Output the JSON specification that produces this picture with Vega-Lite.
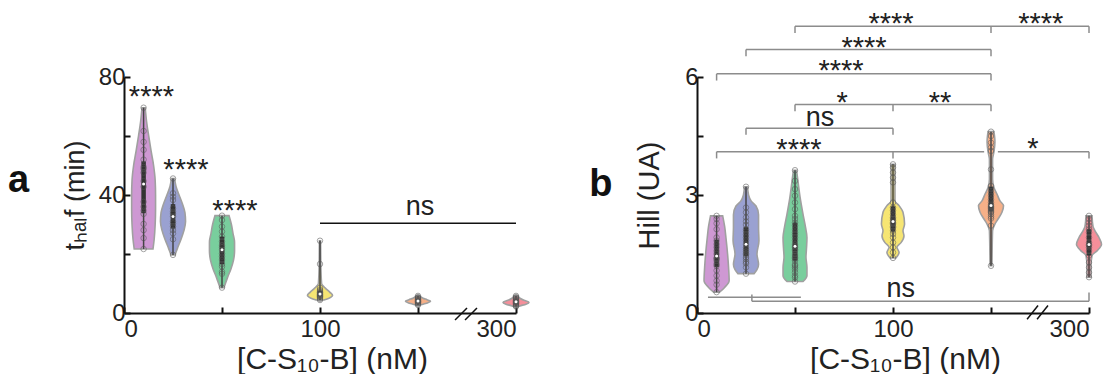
{
"$schema": "https://vega.github.io/schema/vega-lite/v6.json",
"padding": {"left": 8, "top": 10, "right": 1, "bottom": 0},
"spacing": 56,
"config": {
 "font": "Liberation Sans",
 "view": {"stroke": null},
 "axis": {"domainColor": "#111", "domainWidth": 2, "tickColor": "#111", "tickWidth": 2, "tickSize": -6, "labelFontSize": 24, "labelColor": "#222", "labelFont": "Liberation Sans", "titleFont": "Liberation Sans", "titleFontWeight": "normal", "titleColor": "#222", "grid": false},
 "axisX": {"labelPadding": 10},
 "axisY": {"labelPadding": 5}
},
"datasets": {
 "pa": [
  {"c":10,"v":69.6},{"c":10,"v":61.7},{"c":10,"v":58},{"c":10,"v":55.3},{"c":10,"v":52},{"c":10,"v":49.5},{"c":10,"v":48.8},{"c":10,"v":47.6},{"c":10,"v":44.7},{"c":10,"v":42.8},{"c":10,"v":37.7},{"c":10,"v":36},{"c":10,"v":34.7},{"c":10,"v":33.6},{"c":10,"v":30.2},{"c":10,"v":28.1},{"c":10,"v":25.4},{"c":10,"v":21.7},
  {"c":25,"v":45.6},{"c":25,"v":40.6},{"c":25,"v":39.4},{"c":25,"v":38.3},{"c":25,"v":35.5},{"c":25,"v":34.3},{"c":25,"v":33.6},{"c":25,"v":32.7},{"c":25,"v":31.1},{"c":25,"v":30.4},{"c":25,"v":29.3},{"c":25,"v":28.1},{"c":25,"v":27},{"c":25,"v":25},{"c":25,"v":19.7},
  {"c":50,"v":33},{"c":50,"v":31.5},{"c":50,"v":29.3},{"c":50,"v":27.6},{"c":50,"v":25.9},{"c":50,"v":24.2},{"c":50,"v":23},{"c":50,"v":22.3},{"c":50,"v":21.4},{"c":50,"v":20.2},{"c":50,"v":19.1},{"c":50,"v":18},{"c":50,"v":16.6},{"c":50,"v":15.7},{"c":50,"v":14},{"c":50,"v":13.3},{"c":50,"v":8.6},
  {"c":100,"v":24.5},{"c":100,"v":16.6},{"c":100,"v":8.5},{"c":100,"v":7.8},{"c":100,"v":7.4},{"c":100,"v":7},{"c":100,"v":6.8},{"c":100,"v":6.5},{"c":100,"v":6.3},{"c":100,"v":6.1},{"c":100,"v":5.9},{"c":100,"v":5.7},{"c":100,"v":5.5},{"c":100,"v":5.2},{"c":100,"v":4.8},{"c":100,"v":4.4},
  {"c":150,"v":5.8},{"c":150,"v":5.4},{"c":150,"v":5.1},{"c":150,"v":4.8},{"c":150,"v":4.6},{"c":150,"v":4.4},{"c":150,"v":4.2},{"c":150,"v":4.0},{"c":150,"v":3.9},{"c":150,"v":3.7},{"c":150,"v":3.5},{"c":150,"v":3.3},{"c":150,"v":3.0},{"c":150,"v":2.7},
  {"c":300,"v":5.8},{"c":300,"v":5.4},{"c":300,"v":5.0},{"c":300,"v":4.7},{"c":300,"v":4.4},{"c":300,"v":4.2},{"c":300,"v":4.0},{"c":300,"v":3.8},{"c":300,"v":3.6},{"c":300,"v":3.4},{"c":300,"v":3.2},{"c":300,"v":3.0},{"c":300,"v":2.7},{"c":300,"v":2.4},{"c":300,"v":2.2}
 ],
 "va": [
  {"c":10,"v":69.6,"lo":9.2,"hi":10.8},{"c":10,"v":65,"lo":8.5,"hi":11.5},{"c":10,"v":60,"lo":7.4,"hi":12.6},{"c":10,"v":55,"lo":6.2,"hi":13.8},{"c":10,"v":50,"lo":4.9,"hi":15.1},{"c":10,"v":45,"lo":4.1,"hi":15.9},{"c":10,"v":40,"lo":3.9,"hi":16.1},{"c":10,"v":35,"lo":3.9,"hi":16.1},{"c":10,"v":30,"lo":4.1,"hi":15.9},{"c":10,"v":25,"lo":4.6,"hi":15.4},{"c":10,"v":21.7,"lo":5.2,"hi":14.8},
  {"c":25,"v":45.6,"lo":24.2,"hi":25.8},{"c":25,"v":43,"lo":23.5,"hi":26.5},{"c":25,"v":40,"lo":21.9,"hi":28.1},{"c":25,"v":37,"lo":20.2,"hi":29.8},{"c":25,"v":34,"lo":18.9,"hi":31.1},{"c":25,"v":31,"lo":18.6,"hi":31.4},{"c":25,"v":28,"lo":19.4,"hi":30.6},{"c":25,"v":25,"lo":20.9,"hi":29.1},{"c":25,"v":22,"lo":22.7,"hi":27.3},{"c":25,"v":19.7,"lo":24,"hi":26},
  {"c":50,"v":33,"lo":46.4,"hi":53.6},{"c":50,"v":30,"lo":45.2,"hi":54.8},{"c":50,"v":27,"lo":44.4,"hi":55.6},{"c":50,"v":24,"lo":43.6,"hi":56.4},{"c":50,"v":21,"lo":43.6,"hi":56.4},{"c":50,"v":18,"lo":44.1,"hi":55.9},{"c":50,"v":15,"lo":45.4,"hi":54.6},{"c":50,"v":12,"lo":47.2,"hi":52.8},{"c":50,"v":8.6,"lo":49,"hi":51},
  {"c":100,"v":24.5,"lo":99.7,"hi":100.3},{"c":100,"v":17,"lo":99.6,"hi":100.4},{"c":100,"v":10,"lo":99.2,"hi":100.8},{"c":100,"v":8.5,"lo":97.4,"hi":102.6},{"c":100,"v":7,"lo":94.9,"hi":105.1},{"c":100,"v":6,"lo":93.6,"hi":106.4},{"c":100,"v":5,"lo":95.4,"hi":104.6},{"c":100,"v":4.4,"lo":98,"hi":102},
  {"c":150,"v":5.8,"lo":149.2,"hi":150.8},{"c":150,"v":5,"lo":147.4,"hi":152.6},{"c":150,"v":4.5,"lo":145.4,"hi":154.6},{"c":150,"v":4,"lo":143.6,"hi":156.4},{"c":150,"v":3.5,"lo":144.9,"hi":155.1},{"c":150,"v":3,"lo":147.4,"hi":152.6},{"c":150,"v":2.7,"lo":149,"hi":151},
  {"c":300,"v":5.8,"lo":294.9,"hi":305.1},{"c":300,"v":5,"lo":289.8,"hi":310.2},{"c":300,"v":4.3,"lo":279.6,"hi":320.4},{"c":300,"v":3.6,"lo":266.8,"hi":333.2},{"c":300,"v":3,"lo":274.5,"hi":325.5},{"c":300,"v":2.5,"lo":287.2,"hi":312.8},{"c":300,"v":2.2,"lo":294.9,"hi":305.1}
 ],
 "pb": [
  {"c":10,"v":2.47},{"c":10,"v":2.39},{"c":10,"v":2.28},{"c":10,"v":2.13},{"c":10,"v":1.92},{"c":10,"v":1.84},{"c":10,"v":1.75},{"c":10,"v":1.67},{"c":10,"v":1.58},{"c":10,"v":1.5},{"c":10,"v":1.4},{"c":10,"v":1.38},{"c":10,"v":1.33},{"c":10,"v":1.25},{"c":10,"v":1.2},{"c":10,"v":1.08},{"c":10,"v":0.95},{"c":10,"v":0.82},{"c":10,"v":0.72},{"c":10,"v":0.53},
  {"c":25,"v":3.21},{"c":25,"v":2.68},{"c":25,"v":2.56},{"c":25,"v":2.43},{"c":25,"v":2.33},{"c":25,"v":2.24},{"c":25,"v":2.13},{"c":25,"v":2.07},{"c":25,"v":1.99},{"c":25,"v":1.92},{"c":25,"v":1.84},{"c":25,"v":1.75},{"c":25,"v":1.67},{"c":25,"v":1.62},{"c":25,"v":1.57},{"c":25,"v":1.52},{"c":25,"v":1.48},{"c":25,"v":1.42},{"c":25,"v":1.37},{"c":25,"v":1.3},{"c":25,"v":1.26},{"c":25,"v":1.16},{"c":25,"v":1.0},
  {"c":50,"v":3.63},{"c":50,"v":3.36},{"c":50,"v":3.15},{"c":50,"v":2.98},{"c":50,"v":2.81},{"c":50,"v":2.64},{"c":50,"v":2.47},{"c":50,"v":2.39},{"c":50,"v":2.30},{"c":50,"v":2.22},{"c":50,"v":2.13},{"c":50,"v":2.05},{"c":50,"v":1.99},{"c":50,"v":1.92},{"c":50,"v":1.84},{"c":50,"v":1.75},{"c":50,"v":1.7},{"c":50,"v":1.67},{"c":50,"v":1.62},{"c":50,"v":1.58},{"c":50,"v":1.50},{"c":50,"v":1.45},{"c":50,"v":1.41},{"c":50,"v":1.38},{"c":50,"v":1.33},{"c":50,"v":1.24},{"c":50,"v":1.2},{"c":50,"v":1.16},{"c":50,"v":1.1},{"c":50,"v":1.03},{"c":50,"v":0.95},{"c":50,"v":0.9},{"c":50,"v":0.80},
  {"c":100,"v":3.78},{"c":100,"v":3.70},{"c":100,"v":3.57},{"c":100,"v":3.44},{"c":100,"v":3.32},{"c":100,"v":2.81},{"c":100,"v":2.68},{"c":100,"v":2.60},{"c":100,"v":2.51},{"c":100,"v":2.43},{"c":100,"v":2.39},{"c":100,"v":2.35},{"c":100,"v":2.30},{"c":100,"v":2.28},{"c":100,"v":2.26},{"c":100,"v":2.2},{"c":100,"v":2.17},{"c":100,"v":2.09},{"c":100,"v":2.01},{"c":100,"v":1.92},{"c":100,"v":1.79},{"c":100,"v":1.67},{"c":100,"v":1.54},{"c":100,"v":1.40},
  {"c":150,"v":4.61},{"c":150,"v":4.50},{"c":150,"v":4.33},{"c":150,"v":4.21},{"c":150,"v":4.12},{"c":150,"v":3.65},{"c":150,"v":3.23},{"c":150,"v":3.15},{"c":150,"v":3.06},{"c":150,"v":2.98},{"c":150,"v":2.89},{"c":150,"v":2.81},{"c":150,"v":2.75},{"c":150,"v":2.72},{"c":150,"v":2.70},{"c":150,"v":2.68},{"c":150,"v":2.66},{"c":150,"v":2.64},{"c":150,"v":2.60},{"c":150,"v":2.58},{"c":150,"v":2.55},{"c":150,"v":2.51},{"c":150,"v":2.45},{"c":150,"v":2.40},{"c":150,"v":2.22},{"c":150,"v":1.20},
  {"c":300,"v":2.47},{"c":300,"v":2.39},{"c":300,"v":2.30},{"c":300,"v":2.22},{"c":300,"v":2.13},{"c":300,"v":2.05},{"c":300,"v":1.92},{"c":300,"v":1.79},{"c":300,"v":1.74},{"c":300,"v":1.72},{"c":300,"v":1.67},{"c":300,"v":1.58},{"c":300,"v":1.46},{"c":300,"v":1.29},{"c":300,"v":1.16},{"c":300,"v":1.03},{"c":300,"v":0.91}
 ],
 "vb": [
  {"c":10,"v":2.47,"lo":6.9,"hi":13.1},{"c":10,"v":2.2,"lo":5.9,"hi":14.1},{"c":10,"v":1.9,"lo":5.2,"hi":14.8},{"c":10,"v":1.5,"lo":4.4,"hi":15.6},{"c":10,"v":1.16,"lo":3.9,"hi":16.1},{"c":10,"v":0.82,"lo":3.6,"hi":16.4},{"c":10,"v":0.65,"lo":5.9,"hi":14.1},{"c":10,"v":0.53,"lo":8.5,"hi":11.5},
  {"c":25,"v":3.21,"lo":24.2,"hi":25.8},{"c":25,"v":3.0,"lo":23.7,"hi":26.3},{"c":25,"v":2.85,"lo":22.4,"hi":27.6},{"c":25,"v":2.72,"lo":19.9,"hi":30.1},{"c":25,"v":2.5,"lo":18.6,"hi":31.4},{"c":25,"v":2.17,"lo":18.6,"hi":31.4},{"c":25,"v":1.84,"lo":18.4,"hi":31.6},{"c":25,"v":1.5,"lo":19.4,"hi":30.6},{"c":25,"v":1.24,"lo":18.6,"hi":31.4},{"c":25,"v":1.1,"lo":19.4,"hi":30.6},{"c":25,"v":1.0,"lo":20.9,"hi":29.1},
  {"c":50,"v":3.63,"lo":49.2,"hi":50.8},{"c":50,"v":3.36,"lo":48.5,"hi":51.5},{"c":50,"v":2.94,"lo":47.4,"hi":52.6},{"c":50,"v":2.51,"lo":45.9,"hi":54.1},{"c":50,"v":2.17,"lo":44.6,"hi":55.4},{"c":50,"v":1.92,"lo":43.9,"hi":56.1},{"c":50,"v":1.67,"lo":44.1,"hi":55.9},{"c":50,"v":1.42,"lo":44.4,"hi":55.6},{"c":50,"v":1.16,"lo":43.9,"hi":56.1},{"c":50,"v":0.95,"lo":43.9,"hi":56.1},{"c":50,"v":0.8,"lo":45.9,"hi":54.1},
  {"c":100,"v":3.78,"lo":99,"hi":101},{"c":100,"v":3.3,"lo":99,"hi":101},{"c":100,"v":2.85,"lo":99,"hi":101},{"c":100,"v":2.73,"lo":96.9,"hi":103.1},{"c":100,"v":2.56,"lo":94.9,"hi":105.1},{"c":100,"v":2.26,"lo":94.1,"hi":105.9},{"c":100,"v":2.09,"lo":94.9,"hi":105.1},{"c":100,"v":1.96,"lo":94.4,"hi":105.6},{"c":100,"v":1.79,"lo":95.9,"hi":104.1},{"c":100,"v":1.67,"lo":98,"hi":102},{"c":100,"v":1.54,"lo":96.9,"hi":103.1},{"c":100,"v":1.4,"lo":98.5,"hi":101.5},
  {"c":150,"v":4.61,"lo":148.5,"hi":151.5},{"c":150,"v":4.35,"lo":148,"hi":152},{"c":150,"v":4.1,"lo":148.5,"hi":151.5},{"c":150,"v":3.9,"lo":149.2,"hi":150.8},{"c":150,"v":3.4,"lo":149.2,"hi":150.8},{"c":150,"v":3.19,"lo":148.5,"hi":151.5},{"c":150,"v":3.02,"lo":146.9,"hi":153.1},{"c":150,"v":2.85,"lo":145.4,"hi":154.6},{"c":150,"v":2.73,"lo":143.6,"hi":156.4},{"c":150,"v":2.56,"lo":144.4,"hi":155.6},{"c":150,"v":2.39,"lo":146.4,"hi":153.6},{"c":150,"v":2.26,"lo":148,"hi":152},{"c":150,"v":2.09,"lo":149.2,"hi":150.8},{"c":150,"v":1.2,"lo":149.5,"hi":150.5},
  {"c":300,"v":2.47,"lo":292.3,"hi":307.7},{"c":300,"v":2.2,"lo":289.8,"hi":310.2},{"c":300,"v":2.09,"lo":284.7,"hi":315.3},{"c":300,"v":1.92,"lo":274.5,"hi":325.5},{"c":300,"v":1.75,"lo":268.1,"hi":331.9},{"c":300,"v":1.58,"lo":279.6,"hi":320.4},{"c":300,"v":1.46,"lo":292.3,"hi":307.7},{"c":300,"v":1.2,"lo":294.9,"hi":305.1},{"c":300,"v":0.91,"lo":294.9,"hi":305.1}
 ],
 "ba": [{"x1":100,"x2":300,"y1":30.4,"y2":30.4}],
 "sla": [{"x1":168.9,"x2":175,"y1":-2.4,"y2":1.7},{"x1":174,"x2":200.5,"y1":-2.4,"y2":1.7}],
 "ta": [{"x":14,"y":75.8,"t":"****"},{"x":31.6,"y":51.3,"t":"****"},{"x":56.6,"y":37.4,"t":"****"},{"x":151,"y":36,"t":"ns"}],
 "bb": [
  {"x1":50,"x2":300,"y1":7.29,"y2":7.29},{"x1":50,"x2":50,"y1":7.29,"y2":7.12},{"x1":150,"x2":150,"y1":7.29,"y2":7.12},{"x1":300,"x2":300,"y1":7.29,"y2":7.12},
  {"x1":25,"x2":150,"y1":6.70,"y2":6.70},{"x1":25,"x2":25,"y1":6.70,"y2":6.53},{"x1":150,"x2":150,"y1":6.70,"y2":6.53},
  {"x1":10,"x2":150,"y1":6.08,"y2":6.08},{"x1":10,"x2":10,"y1":6.08,"y2":5.91},{"x1":150,"x2":150,"y1":6.08,"y2":5.91},
  {"x1":50,"x2":150,"y1":5.30,"y2":5.30},{"x1":50,"x2":50,"y1":5.30,"y2":5.13},{"x1":100,"x2":100,"y1":5.30,"y2":5.13},{"x1":150,"x2":150,"y1":5.30,"y2":5.13},
  {"x1":25,"x2":100,"y1":4.70,"y2":4.70},{"x1":25,"x2":25,"y1":4.70,"y2":4.53},{"x1":100,"x2":100,"y1":4.70,"y2":4.53},
  {"x1":10,"x2":146.5,"y1":4.10,"y2":4.10},{"x1":153.5,"x2":300,"y1":4.10,"y2":4.10},{"x1":10,"x2":10,"y1":4.10,"y2":3.93},{"x1":100,"x2":100,"y1":4.10,"y2":3.93},{"x1":300,"x2":300,"y1":4.10,"y2":3.93},
  {"x1":5.6,"x2":53,"y1":0.40,"y2":0.40},
  {"x1":28,"x2":300,"y1":0.30,"y2":0.30},{"x1":28,"x2":28,"y1":0.30,"y2":0.47},{"x1":300,"x2":300,"y1":0.30,"y2":0.52}
 ],
 "slb": [{"x1":168.4,"x2":174,"y1":-0.16,"y2":0.19},{"x1":173.5,"x2":195.4,"y1":-0.16,"y2":0.19}],
 "tb": [{"x":99,"y":7.55,"t":"****"},{"x":177,"y":7.55,"t":"****"},{"x":85.2,"y":6.95,"t":"****"},{"x":73.5,"y":6.35,"t":"****"},{"x":74,"y":5.53,"t":"*"},{"x":124,"y":5.53,"t":"**"},{"x":62.8,"y":4.97,"t":"ns"},{"x":52,"y":4.36,"t":"****"},{"x":171.4,"y":4.37,"t":"*"},{"x":104,"y":0.61,"t":"ns"}]
},
"hconcat": [
 {
  "width": 392, "height": 236,
  "title": {"text": "a", "orient": "left", "angle": 0, "align": "right", "baseline": "middle", "fontSize": 38, "fontWeight": "bold", "font": "Liberation Sans", "color": "#111", "offset": 11, "dy": -14, "anchor": "middle"},
  "layer": [
   {"data": {"name": "va"},
    "mark": {"type": "area", "orient": "horizontal", "interpolate": "monotone", "stroke": "#a0a0a0", "strokeWidth": 1.6, "fillOpacity": 0.85},
    "encoding": {
     "y": {"field": "v", "type": "quantitative", "scale": {"domain": [0, 80], "nice": false}, "axis": {"values": [0, 20, 40, 60, 80], "labelExpr": "datum.value % 40 === 0 ? datum.label : ''", "title": "tₕₐₗf (min)", "titleFontSize": 27, "titlePadding": 9}},
     "x": {"field": "lo", "type": "quantitative", "scale": {"domain": [0, 175, 300], "range": [0, 343, 392], "nice": false, "zero": false}, "axis": {"values": [0, 50, 100, 150, 300], "labelExpr": "datum.value === 50 || datum.value === 150 ? '' : datum.label", "title": "[C-S₁₀-B] (nM)", "titleFontSize": 30, "titlePadding": 3, "titleX": 208}},
     "x2": {"field": "hi"},
     "color": {"field": "c", "type": "nominal", "scale": {"domain": [10, 25, 50, 100, 150, 300], "range": ["#c586cb", "#8891c9", "#62c68c", "#f5e05a", "#f5a273", "#f37b88"]}, "legend": null},
     "detail": {"field": "c"}}},
   {"data": {"name": "pa"},
    "transform": [{"aggregate": [{"op": "min", "field": "v", "as": "mn"}, {"op": "max", "field": "v", "as": "mx"}, {"op": "q1", "field": "v", "as": "q1"}, {"op": "q3", "field": "v", "as": "q3"}], "groupby": ["c"]}],
    "layer": [
     {"mark": {"type": "rule", "color": "#444", "strokeWidth": 1.5}, "encoding": {"x": {"field": "c", "type": "quantitative"}, "y": {"field": "mn", "type": "quantitative"}, "y2": {"field": "mx"}}},
     {"mark": {"type": "rule", "color": "#333", "strokeWidth": 4.5}, "encoding": {"x": {"field": "c", "type": "quantitative"}, "y": {"field": "q1", "type": "quantitative"}, "y2": {"field": "q3"}}}
    ]},
   {"data": {"name": "pa"},
    "mark": {"type": "point", "shape": "circle", "filled": false, "stroke": "#555", "strokeWidth": 1, "opacity": 0.55, "size": 30},
    "encoding": {"x": {"field": "c", "type": "quantitative"}, "y": {"field": "v", "type": "quantitative"}}},
   {"data": {"name": "pa"},
    "transform": [{"aggregate": [{"op": "median", "field": "v", "as": "md"}], "groupby": ["c"]}],
    "mark": {"type": "point", "shape": "circle", "filled": true, "color": "white", "opacity": 1, "size": 9},
    "encoding": {"x": {"field": "c", "type": "quantitative"}, "y": {"field": "md", "type": "quantitative"}}},
   {"data": {"name": "ba"},
    "mark": {"type": "rule", "color": "#111", "strokeWidth": 1.5},
    "encoding": {"x": {"field": "x1", "type": "quantitative"}, "x2": {"field": "x2"}, "y": {"field": "y1", "type": "quantitative"}, "y2": {"field": "y2"}}},
   {"data": {"name": "sla"},
    "mark": {"type": "rule", "color": "#111", "strokeWidth": 1.5},
    "encoding": {"x": {"field": "x1", "type": "quantitative"}, "x2": {"field": "x2"}, "y": {"field": "y1", "type": "quantitative"}, "y2": {"field": "y2"}}},
   {"data": {"name": "ta"},
    "transform": [{"filter": "datum.t !== 'ns'"}],
    "mark": {"type": "text", "fontSize": 29, "dy": 8, "color": "#222", "baseline": "middle", "font": "Liberation Sans"},
    "encoding": {"x": {"field": "x", "type": "quantitative"}, "y": {"field": "y", "type": "quantitative"}, "text": {"field": "t"}}},
   {"data": {"name": "ta"},
    "transform": [{"filter": "datum.t === 'ns'"}],
    "mark": {"type": "text", "fontSize": 27, "color": "#222", "baseline": "middle", "font": "Liberation Sans"},
    "encoding": {"x": {"field": "x", "type": "quantitative"}, "y": {"field": "y", "type": "quantitative"}, "text": {"field": "t"}}}
  ]
 },
 {
  "width": 392, "height": 236,
  "title": {"text": "b", "orient": "left", "angle": 0, "align": "right", "baseline": "middle", "fontSize": 38, "fontWeight": "bold", "font": "Liberation Sans", "color": "#111", "offset": 0, "dy": -10, "anchor": "middle"},
  "layer": [
   {"data": {"name": "vb"},
    "mark": {"type": "area", "orient": "horizontal", "interpolate": "monotone", "stroke": "#a0a0a0", "strokeWidth": 1.6, "fillOpacity": 0.85},
    "encoding": {
     "y": {"field": "v", "type": "quantitative", "scale": {"domain": [0, 6], "nice": false}, "axis": {"values": [0, 1.5, 3, 4.5, 6], "labelExpr": "datum.value % 3 === 0 ? datum.label : ''", "title": "Hill (UA)", "titleFontSize": 29, "titlePadding": 20}},
     "x": {"field": "lo", "type": "quantitative", "scale": {"domain": [0, 175, 300], "range": [0, 343, 392], "nice": false, "zero": false}, "axis": {"values": [0, 50, 100, 150, 300], "labelExpr": "datum.value === 50 || datum.value === 150 ? '' : datum.label", "title": "[C-S₁₀-B] (nM)", "titleFontSize": 30, "titlePadding": 3, "titleX": 208}},
     "x2": {"field": "hi"},
     "color": {"field": "c", "type": "nominal", "scale": {"domain": [10, 25, 50, 100, 150, 300], "range": ["#c586cb", "#8891c9", "#62c68c", "#f5e05a", "#f5a273", "#f37b88"]}, "legend": null},
     "detail": {"field": "c"}}},
   {"data": {"name": "pb"},
    "transform": [{"aggregate": [{"op": "min", "field": "v", "as": "mn"}, {"op": "max", "field": "v", "as": "mx"}, {"op": "q1", "field": "v", "as": "q1"}, {"op": "q3", "field": "v", "as": "q3"}], "groupby": ["c"]}],
    "layer": [
     {"mark": {"type": "rule", "color": "#444", "strokeWidth": 1.5}, "encoding": {"x": {"field": "c", "type": "quantitative"}, "y": {"field": "mn", "type": "quantitative"}, "y2": {"field": "mx"}}},
     {"mark": {"type": "rule", "color": "#333", "strokeWidth": 4.5}, "encoding": {"x": {"field": "c", "type": "quantitative"}, "y": {"field": "q1", "type": "quantitative"}, "y2": {"field": "q3"}}}
    ]},
   {"data": {"name": "pb"},
    "mark": {"type": "point", "shape": "circle", "filled": false, "stroke": "#555", "strokeWidth": 1, "opacity": 0.55, "size": 30},
    "encoding": {"x": {"field": "c", "type": "quantitative"}, "y": {"field": "v", "type": "quantitative"}}},
   {"data": {"name": "pb"},
    "transform": [{"aggregate": [{"op": "median", "field": "v", "as": "md"}], "groupby": ["c"]}],
    "mark": {"type": "point", "shape": "circle", "filled": true, "color": "white", "opacity": 1, "size": 9},
    "encoding": {"x": {"field": "c", "type": "quantitative"}, "y": {"field": "md", "type": "quantitative"}}},
   {"data": {"name": "bb"},
    "mark": {"type": "rule", "color": "#8c8c8c", "strokeWidth": 1.5},
    "encoding": {"x": {"field": "x1", "type": "quantitative"}, "x2": {"field": "x2"}, "y": {"field": "y1", "type": "quantitative"}, "y2": {"field": "y2"}}},
   {"data": {"name": "slb"},
    "mark": {"type": "rule", "color": "#111", "strokeWidth": 1.5},
    "encoding": {"x": {"field": "x1", "type": "quantitative"}, "x2": {"field": "x2"}, "y": {"field": "y1", "type": "quantitative"}, "y2": {"field": "y2"}}},
   {"data": {"name": "tb"},
    "transform": [{"filter": "datum.t !== 'ns'"}],
    "mark": {"type": "text", "fontSize": 29, "dy": 8, "color": "#222", "baseline": "middle", "font": "Liberation Sans"},
    "encoding": {"x": {"field": "x", "type": "quantitative"}, "y": {"field": "y", "type": "quantitative"}, "text": {"field": "t"}}},
   {"data": {"name": "tb"},
    "transform": [{"filter": "datum.t === 'ns'"}],
    "mark": {"type": "text", "fontSize": 27, "color": "#222", "baseline": "middle", "font": "Liberation Sans"},
    "encoding": {"x": {"field": "x", "type": "quantitative"}, "y": {"field": "y", "type": "quantitative"}, "text": {"field": "t"}}}
  ]
 }
]
}
